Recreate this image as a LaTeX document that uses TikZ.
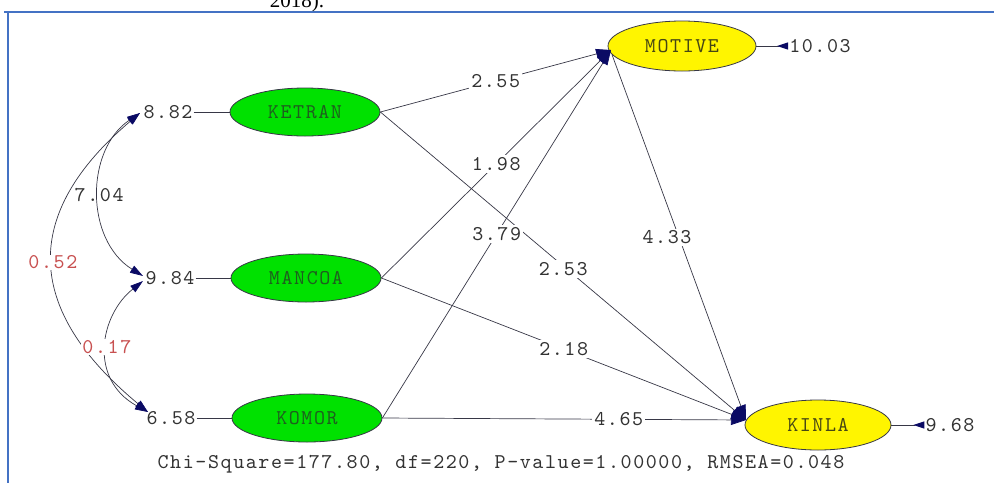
\documentclass[tikz,border=0pt]{standalone}
\usepackage{fontspec}
\setmainfont{Liberation Serif}
\newfontfamily\lisfont[LetterSpace=7.5]{lmmono10-regular.otf}
\usetikzlibrary{arrows.meta,shapes.geometric}
\definecolor{exgreen}{RGB}{0,225,0}
\definecolor{exgtext}{RGB}{30,95,30}
\definecolor{enyellow}{RGB}{255,245,0}
\definecolor{enytext}{RGB}{70,70,20}
\definecolor{linegray}{RGB}{55,55,70}
\definecolor{tipnavy}{RGB}{10,10,100}
\definecolor{lblgray}{RGB}{50,50,50}
\definecolor{lblred}{RGB}{200,80,80}
\definecolor{framblue}{RGB}{68,114,196}
\begin{document}
\begin{tikzpicture}[x=1pt,y=-1pt,
  lis/.style={font=\lisfont\fontsize{21}{25}\selectfont},
  exo/.style={lis,ellipse,draw=linegray,line width=0.8pt,fill=exgreen,text=exgtext,
    minimum width=150pt,minimum height=48pt,inner sep=0pt},
  endo/.style={lis,ellipse,draw=linegray,line width=0.8pt,fill=enyellow,text=enytext,
    minimum width=148pt,minimum height=50pt,inner sep=0pt},
  errlbl/.style={lis,text=lblgray,inner sep=1pt},
  pathlbl/.style={lis,text=lblgray,fill=white,inner sep=2pt},
  covlbl/.style={lis,text=lblred,fill=white,inner sep=1pt},
  conn/.style={draw=linegray,line width=0.7pt},
  patharrow/.style={conn,-{Triangle[length=15pt,width=10pt,color=tipnavy]}},
  covarrow/.style={conn,{Triangle[length=13pt,width=8pt,color=tipnavy]}-{Triangle[length=13pt,width=8pt,color=tipnavy]}},
  errarrow/.style={conn,line width=1pt,-{Triangle[reversed,length=11pt,width=7pt,color=tipnavy]}},
  framline/.style={draw=framblue,line width=2.8pt}
]
\useasboundingbox (0,0) rectangle (994,483);
\clip (0,0) rectangle (994,483);

% partial caption at top
\node[font=\fontsize{21}{24}\selectfont,anchor=base,inner sep=0pt] (cap) at (297,7) {2018).};
% frame
\draw[framline] (4,12) -- (994,12);
\draw[framline] (8,12) -- (8,483);

% latent variables
\node[exo] (KETRAN) at (305,112) {KETRAN};
\node[exo] (MANCOA) at (306,278) {MANCOA};
\node[exo] (KOMOR) at (307,418) {KOMOR};
\node[endo] (MOTIVE) at (682,46) {MOTIVE};
\node[endo,minimum width=146pt] (KINLA) at (818,425) {KINLA};

% error variances
\node[errlbl] (e1) at (168,112) {8.82};
\node[errlbl] (e2) at (170,278) {9.84};
\node[errlbl] (e3) at (171,418) {6.58};
\node[errlbl] (e4) at (820,46) {10.03};
\node[errlbl] (e5) at (950,425) {9.68};

\draw[conn] (e1.east) -- (KETRAN.west);
\draw[conn] (e2.east) -- (MANCOA.west);
\draw[conn] (e3.east) -- (KOMOR.west);
\draw[errarrow] (MOTIVE.east) -- (e4.west);
\draw[errarrow] (KINLA.east) -- (e5.west);

% arrow tip points
\coordinate (mt) at (611,50);
\coordinate (kt) at (746,420);
\coordinate (c1) at (140,113);
\coordinate (c2a) at (143,276);
\coordinate (c2b) at (143,281);
\coordinate (c3) at (148,412);

% covariances
\draw[covarrow] (c1) .. controls (85,150) and (85,240) .. (c2a)
  node[pos=0.5,covlbl,text=lblgray,fill=none] (l704) {7.04};
\draw[covarrow] (c1) .. controls (20,215) and (25,310) .. (c3)
  node[pos=0.5,covlbl] (l052) {0.52};
\draw[covarrow] (c2b) .. controls (100,315) and (88,379) .. (c3)
  node[pos=0.5,covlbl] (l017) {0.17};

% structural paths
\draw[patharrow] (KETRAN.east) -- node[pathlbl,pos=0.5] (p1) {2.55} (mt);
\draw[patharrow] (KETRAN.east) -- node[pathlbl,pos=0.5,yshift=-3pt] (p2) {2.53} (kt);
\draw[patharrow] (MANCOA.east) -- node[pathlbl,pos=0.5] (p3) {1.98} (mt);
\draw[patharrow] (MANCOA.east) -- node[pathlbl,pos=0.5] (p4) {2.18} (kt);
\draw[patharrow] (KOMOR.east) -- node[pathlbl,pos=0.5] (p5) {3.79} (mt);
\draw[patharrow] (KOMOR.east) -- node[pathlbl,pos=0.65] (p6) {4.65} (kt);
\draw[patharrow] (MOTIVE.187) -- node[pathlbl,pos=0.5,xshift=-12pt] (p7) {4.33} (kt);

% fit statistics
\node[lis,text=lblgray] (fit) at (501,464) {Chi-Square=177.80, df=220, P-value=1.00000, RMSEA=0.048};
\end{tikzpicture}
\end{document}
